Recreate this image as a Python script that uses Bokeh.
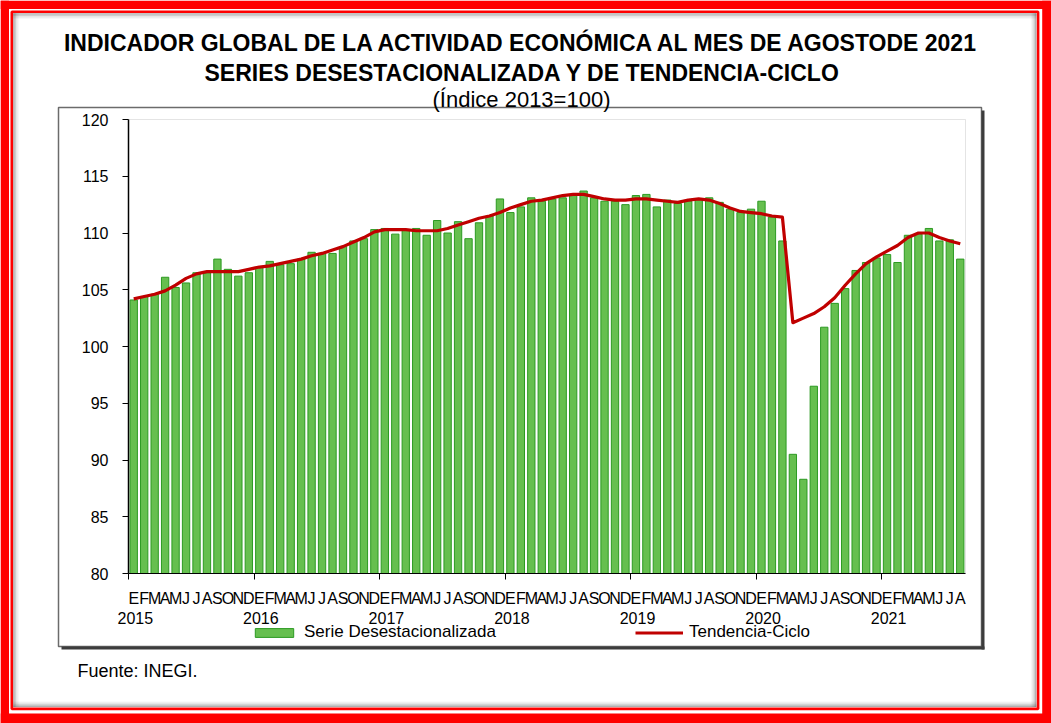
from bokeh.plotting import figure
from bokeh.models import (Range1d, FixedTicker, LinearAxis, BoxAnnotation, Label,
                          Legend, LegendItem)
from bokeh.embed import file_html
from bokeh.resources import INLINE

# ---------------- data ----------------
month_letters = ["E", "F", "M", "A", "M", "J", "J", "A", "S", "O", "N", "D"]
years = ["2015", "2016", "2017", "2018", "2019", "2020", "2021"]

serie_desestacionalizada = [
    104.1, 104.4, 104.6, 106.1, 105.2, 105.6, 106.5, 106.5, 107.7, 106.8, 106.2, 106.5,
    107.0, 107.5, 107.2, 107.3, 107.7, 108.3, 108.2, 108.2, 108.8, 109.3, 109.5, 110.3,
    110.4, 109.9, 110.3, 110.4, 109.8, 111.1, 110.0, 111.0, 109.5, 110.9, 111.5, 113.0,
    111.8, 112.3, 113.1, 112.8, 113.0, 113.1, 113.3, 113.7, 113.1, 112.8, 112.8, 112.5,
    113.3, 113.4, 112.3, 112.9, 112.6, 112.8, 113.0, 113.1, 112.7, 112.1, 111.8, 112.1,
    112.8, 111.4, 109.3, 90.5, 88.3, 96.5, 101.7, 103.8, 105.1, 106.7, 107.4, 107.8,
    108.1, 107.4, 109.8, 109.9, 110.4, 109.3, 109.4, 107.7,
]
tendencia_ciclo = [
    104.2, 104.4, 104.6, 104.9, 105.4, 106.0, 106.4, 106.6, 106.6, 106.6, 106.6, 106.8,
    107.0, 107.1, 107.3, 107.5, 107.7, 108.0, 108.2, 108.5, 108.8, 109.2, 109.6, 110.1,
    110.3, 110.3, 110.3, 110.2, 110.2, 110.2, 110.4, 110.7, 111.0, 111.3, 111.5, 111.8,
    112.2, 112.5, 112.8, 112.9, 113.1, 113.3, 113.4, 113.4, 113.2, 113.0, 112.9, 112.9,
    113.0, 113.0, 112.9, 112.8, 112.7, 112.9, 113.0, 112.9, 112.6, 112.2, 111.9, 111.8,
    111.7, 111.5, 111.4, 102.1, 102.5, 102.9, 103.5, 104.3, 105.4, 106.4, 107.3, 107.9,
    108.4, 108.9, 109.6, 110.0, 110.0, 109.6, 109.3, 109.05,
]
y_ticks = [80, 85, 90, 95, 100, 105, 110, 115, 120]

title_1 = "INDICADOR GLOBAL DE LA ACTIVIDAD ECONÓMICA AL MES DE AGOSTODE 2021"
title_2 = "SERIES DESESTACIONALIZADA Y DE TENDENCIA-CICLO"
title_3 = "(Índice 2013=100)"
source = "Fuente: INEGI."

# ---------------- layout ----------------
W, H = 1051, 723
FL, FR, FT, FB = 128, 965, 119, 573      # plot-area pixels
YMIN, YMAX = y_ticks[0], y_ticks[-1]
n = len(serie_desestacionalizada)
FONT = "Liberation Sans"


def X(px):
    return (px - FL) / (FR - FL) * n


def Y(py):
    return YMAX - (py - FT) / (FB - FT) * (YMAX - YMIN)


p = figure(width=W, height=H, output_backend="svg", toolbar_location=None,
           x_range=Range1d(X(0), X(W)), y_range=Range1d(Y(H), Y(0)),
           x_axis_type=None, y_axis_type=None,
           min_border_left=0, min_border_right=0, min_border_top=0, min_border_bottom=0)
p.background_fill_color = "white"
p.border_fill_color = "white"
p.outline_line_color = None

xs = [i + 0.5 for i in range(n)]

bars = p.vbar(x=xs, top=serie_desestacionalizada, bottom=YMIN, width=0.7,
              fill_color="#66BF4F", line_color="#2C9A22", line_width=1)
trend = p.line(x=xs, y=tendencia_ciclo, line_color="#C00000", line_width=3.2,
               line_join="round")

# plot-area border (light gray, top and right visible)
p.add_layout(BoxAnnotation(left=0, right=n, bottom=YMIN, top=YMAX, fill_color=None,
                           line_color="#a6a6a6", line_width=1, level="underlay"))

# y axis
yaxis = LinearAxis(ticker=FixedTicker(ticks=y_ticks), fixed_location=0, bounds=(YMIN, YMAX),
                   major_tick_out=6, major_tick_in=0, minor_tick_out=0, minor_tick_in=0,
                   major_label_standoff=14, axis_line_color="black", axis_line_width=1.5,
                   major_tick_line_color="black",
                   major_label_text_font=FONT, major_label_text_font_size="16px",
                   major_label_text_color="black")
p.add_layout(yaxis, "left")

# month axis
month_ticks = xs
year_starts = [12 * k for k in range(len(years))]
xaxis = LinearAxis(ticker=FixedTicker(ticks=month_ticks, minor_ticks=year_starts),
                   fixed_location=YMIN, bounds=(0, n),
                   major_label_overrides={t: month_letters[i % 12] for i, t in enumerate(month_ticks)},
                   major_tick_out=0, major_tick_in=0, minor_tick_out=6, minor_tick_in=0,
                   minor_tick_line_color="black", axis_line_color="black", axis_line_width=1,
                   major_label_standoff=10,
                   major_label_text_font=FONT, major_label_text_font_size="16px",
                   major_label_text_color="black")
p.add_layout(xaxis, "below")

# year axis
year_ticks = [s + 0.65 for s in year_starts]
yearaxis = LinearAxis(ticker=FixedTicker(ticks=year_ticks), fixed_location=YMIN,
                      bounds=(0, n),
                      major_label_overrides={t: years[i] for i, t in enumerate(year_ticks)},
                      major_tick_out=0, major_tick_in=0, minor_tick_out=0, minor_tick_in=0,
                      axis_line_color=None, major_tick_line_color=None,
                      major_label_standoff=38,
                      major_label_text_font=FONT, major_label_text_font_size="16px",
                      major_label_text_color="black")
p.add_layout(yearaxis, "below")

# legend
legend = Legend(items=[LegendItem(label="Serie Desestacionalizada", renderers=[bars]),
                       LegendItem(label="Tendencia-Ciclo", renderers=[trend])],
                orientation="horizontal", location=(250, H - 642),
                glyph_width=48, glyph_height=11, label_standoff=6, label_width=331,
                spacing=0, padding=0, margin=0, border_line_color=None,
                background_fill_alpha=0, label_text_font=FONT,
                label_text_font_size="17px", label_text_color="black")
p.add_layout(legend, "center")


# ---------------- decorations ----------------
def box(l, t, r, b, **kw):
    kw.setdefault("fill_color", None)
    kw.setdefault("line_color", None)
    p.add_layout(BoxAnnotation(left=X(l), right=X(r), top=Y(t), bottom=Y(b), **kw))


RED = "#FF0000"
# thick outer red band
box(0, 0, W, 8.5, fill_color=RED, fill_alpha=1)
box(0, 713, W, H, fill_color=RED, fill_alpha=1)
box(0, 0, 8.5, H, fill_color=RED, fill_alpha=1)
box(1041.7, 0, W, H, fill_color=RED, fill_alpha=1)
# inner shadow
for i, a in enumerate([0.45, 0.28, 0.14, 0.06]):
    d = 1.4 * i
    box(12.7 + d, 12.7, 14.1 + d, 706.5, fill_color="#505050", fill_alpha=a)
    box(12.7, 12.7 + d, 1036, 14.1 + d, fill_color="#505050", fill_alpha=a)
    box(1034.6 - d, 12.7, 1036 - d, 706.5, fill_color="#505050", fill_alpha=a)
    box(12.7, 705.1 - d, 1036, 706.5 - d, fill_color="#505050", fill_alpha=a)
# thin red frame
box(11.3, 11.3, 1037.6, 708.4, line_color=RED, line_width=2.6, line_alpha=1)

# chart box
box(58, 107, 981, 646, line_color="#6b6b6b", line_width=1.5, line_alpha=1)
box(981, 110, 984, 649, fill_color="#3c3c3c", fill_alpha=1)
box(61, 646, 984, 649, fill_color="#3c3c3c", fill_alpha=1)

# titles
p.add_layout(Label(x=X(522), y=Y(42), text=title_1, text_align="center",
                   text_baseline="alphabetic", text_font=FONT, text_font_style="bold",
                   text_font_size="23px", text_color="black"))
p.add_layout(Label(x=X(522), y=Y(72), text=title_2, text_align="center",
                   text_baseline="alphabetic", text_font=FONT, text_font_style="bold",
                   text_font_size="23px", text_color="black"))
p.add_layout(Label(x=X(521), y=Y(99), text=title_3, text_align="center",
                   text_baseline="alphabetic", text_font=FONT,
                   text_font_size="22px", text_color="black"))
p.add_layout(Label(x=X(77), y=Y(670), text=source, text_align="left",
                   text_baseline="alphabetic", text_font=FONT,
                   text_font_size="18px", text_color="black"))

open("out.html", "w").write(file_html(p, INLINE))
